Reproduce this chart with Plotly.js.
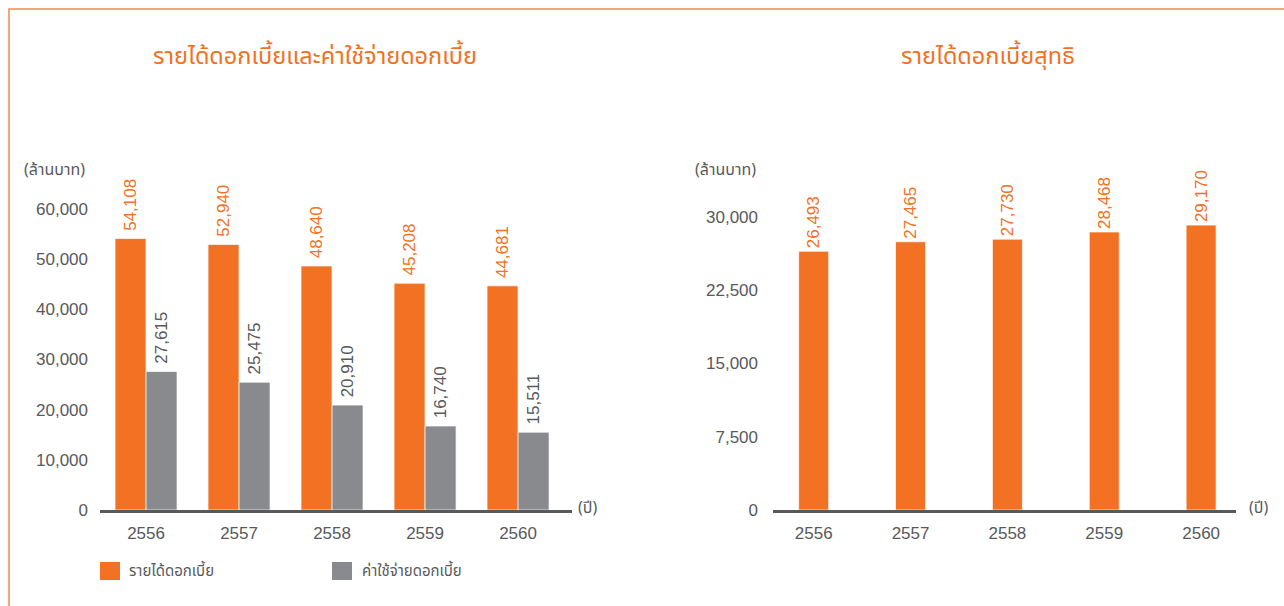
<!DOCTYPE html>
<html>
<head>
<meta charset="utf-8">
<script src="https://cdn.plot.ly/plotly-3.0.1.min.js"></script>
<style>html,body{margin:0;padding:0;background:#fff}#chart{width:1284px;height:606px}</style>
</head>
<body>
<div id="chart"></div>
<script>
// ---- data ----
const years = ['2556', '2557', '2558', '2559', '2560'];
const interestIncome = [54108, 52940, 48640, 45208, 44681];
const interestExpense = [27615, 25475, 20910, 16740, 15511];
const netInterestIncome = [26493, 27465, 27730, 28468, 29170];
const leftTicks = [0, 10000, 20000, 30000, 40000, 50000, 60000];
const rightTicks = [0, 7500, 15000, 22500, 30000];
const seriesNames = ['รายได้ดอกเบี้ย', 'ค่าใช้จ่ายดอกเบี้ย', 'รายได้ดอกเบี้ยสุทธิ'];
const titleLeft = 'รายได้ดอกเบี้ยและค่าใช้จ่ายดอกเบี้ย';
const titleRight = 'รายได้ดอกเบี้ยสุทธิ';
const unitLabel = '(ล้านบาท)';
const yearLabel = '(ปี)';

// ---- style ----
const W = 1284, H = 606;
const ORANGE = '#F27122', GRAY = '#898A8E', TXT = '#58595B';
const NUMFONT = 'Liberation Sans, Arial, Helvetica, sans-serif';
const THAIFONT = 'Noto Sans Thai, Noto Sans Thai Looped, Loma, Garuda, Tlwg Typo, Noto Sans, sans-serif';
const px = x => x / W;
const py = y => 1 - y / H;

const fmt = v => v.toLocaleString('en-US');
const padFmt = v => '\u00a0' + fmt(v);

const barCommon = {type: 'bar', textposition: 'outside', textangle: -90, constraintext: 'none',
  cliponaxis: false, showlegend: false};

const traces = [
  Object.assign({}, barCommon, {x: years, y: interestIncome, name: seriesNames[0], xaxis: 'x', yaxis: 'y',
   marker: {color: ORANGE, line: {color: 'rgba(255,255,255,0.7)', width: 1}},
   text: interestIncome.map(padFmt), textfont: {family: NUMFONT, size: 17, color: ORANGE}}),
  Object.assign({}, barCommon, {x: years, y: interestExpense, name: seriesNames[1], xaxis: 'x', yaxis: 'y',
   marker: {color: GRAY, line: {color: 'rgba(255,255,255,0.7)', width: 1}},
   text: interestExpense.map(padFmt), textfont: {family: NUMFONT, size: 17, color: TXT}}),
  Object.assign({}, barCommon, {x: years, y: netInterestIncome, name: seriesNames[2], xaxis: 'x2', yaxis: 'y2',
   width: 0.31, offsetgroup: 'net',
   marker: {color: ORANGE, line: {color: 'rgba(255,255,255,0.7)', width: 1}},
   text: netInterestIncome.map(fmt), textfont: {family: NUMFONT, size: 17, color: ORANGE}})
];

const yBottom = py(510), yTop = py(100);
const axisFont = {family: NUMFONT, size: 17, color: TXT};

const layout = {
  width: W, height: H,
  margin: {l: 0, r: 0, t: 0, b: 0},
  paper_bgcolor: '#fff', plot_bgcolor: 'rgba(0,0,0,0)',
  barmode: 'group', bargap: 0.333, bargroupgap: 0,
  showlegend: false,
  xaxis: {domain: [px(100), px(572)], type: 'category', range: [-0.495, 4.58],
    showline: true, linecolor: TXT, linewidth: 3, ticks: '', showgrid: false, zeroline: false,
    tickfont: axisFont, ticklabelstandoff: 6, anchor: 'y', fixedrange: true},
  yaxis: {domain: [yBottom, yTop], range: [0, 81728], tickvals: leftTicks,
    ticktext: leftTicks.map(fmt), showgrid: false, zeroline: false, showline: false, ticks: '',
    tickfont: axisFont, ticklabelstandoff: 11, anchor: 'x'},
  xaxis2: {domain: [px(773), px(1236)], type: 'category', range: [-0.42, 4.36],
    showline: true, linecolor: TXT, linewidth: 3, ticks: '', showgrid: false, zeroline: false,
    tickfont: axisFont, ticklabelstandoff: 6, anchor: 'y2'},
  yaxis2: {domain: [yBottom, yTop], range: [0, 41980], tickvals: rightTicks,
    ticktext: rightTicks.map(fmt), showgrid: false, zeroline: false, showline: false, ticks: '',
    tickfont: axisFont, ticklabelstandoff: 14, anchor: 'x2'},
  shapes: [
    {type: 'path', xref: 'paper', yref: 'paper',
     path: `M ${px(9)} ${py(606)} L ${px(9)} ${py(9)} L ${px(1284)} ${py(9)}`,
     line: {color: '#F5874A', width: 1.5}},
    {type: 'rect', xref: 'paper', yref: 'paper', x0: px(100), x1: px(120), y0: py(580), y1: py(562),
     fillcolor: ORANGE, line: {width: 0}},
    {type: 'rect', xref: 'paper', yref: 'paper', x0: px(332), x1: px(352), y0: py(580), y1: py(562),
     fillcolor: GRAY, line: {width: 0}}
  ],
  annotations: [
    {text: titleLeft, xref: 'paper', yref: 'paper', x: px(315), y: py(57), xanchor: 'center', yanchor: 'middle',
     showarrow: false, font: {family: THAIFONT, size: 23.5, weight: 400, color: ORANGE}},
    {text: titleRight, xref: 'paper', yref: 'paper', x: px(988), y: py(57), xanchor: 'center', yanchor: 'middle',
     showarrow: false, font: {family: THAIFONT, size: 23.5, weight: 400, color: ORANGE}},
    {text: unitLabel, xref: 'paper', yref: 'paper', x: px(87), y: py(170), xanchor: 'right', yanchor: 'middle',
     showarrow: false, font: {family: THAIFONT, size: 16, color: TXT}},
    {text: unitLabel, xref: 'paper', yref: 'paper', x: px(758), y: py(170), xanchor: 'right', yanchor: 'middle',
     showarrow: false, font: {family: THAIFONT, size: 16, color: TXT}},
    {text: yearLabel, xref: 'paper', yref: 'paper', x: px(576), y: py(508), xanchor: 'left', yanchor: 'middle',
     showarrow: false, font: {family: THAIFONT, size: 16, color: TXT}},
    {text: yearLabel, xref: 'paper', yref: 'paper', x: px(1247), y: py(508), xanchor: 'left', yanchor: 'middle',
     showarrow: false, font: {family: THAIFONT, size: 16, color: TXT}},
    {text: seriesNames[0], xref: 'paper', yref: 'paper', x: px(127), y: py(571), xanchor: 'left', yanchor: 'middle',
     showarrow: false, font: {family: THAIFONT, size: 15, color: TXT}},
    {text: seriesNames[1], xref: 'paper', yref: 'paper', x: px(360), y: py(571), xanchor: 'left', yanchor: 'middle',
     showarrow: false, font: {family: THAIFONT, size: 15, color: TXT}}
  ]
};

Plotly.newPlot('chart', traces, layout, {staticPlot: true, displayModeBar: false});
</script>
</body>
</html>
